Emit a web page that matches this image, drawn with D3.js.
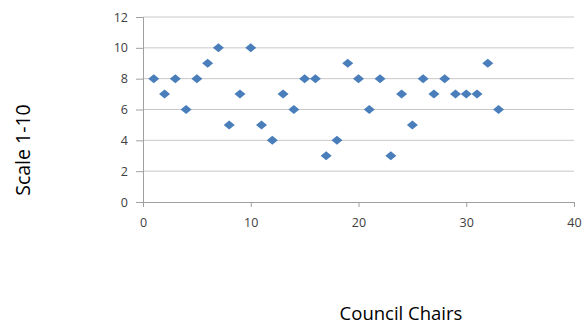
<!DOCTYPE html>
<html>
<head>
<meta charset="utf-8">
<script src="https://cdn.jsdelivr.net/npm/d3@7"></script>
<style>
  html, body { margin: 0; padding: 0; background: #fff; }
  svg { display: block; }
</style>
</head>
<body>
<svg id="chart" width="584" height="326"></svg>
<script>
// Council chair numbers and their ratings on a 1-10 scale
const chairs = [1,2,3,4,5,6,7,8,9,10,11,12,13,14,15,16,17,18,19,20,21,22,23,24,25,26,27,28,29,30,31,32,33];
const ratings = [8,7,8,6,8,9,10,5,7,10,5,4,7,6,8,8,3,4,9,8,6,8,3,7,5,8,7,8,7,7,7,9,6];
const xTicks = [0,10,20,30,40];
const yTicks = [0,2,4,6,8,10,12];
const xTitle = "Council Chairs";
const yTitle = "Scale 1-10";

const svg = d3.select("#chart");
const plotLeft = 143, plotRight = 574, plotTop = 17, plotBottom = 202;

const x = d3.scaleLinear().domain([0, 40]).range([plotLeft, plotRight]);
const y = d3.scaleLinear().domain([0, 12]).range([plotBottom, plotTop]);

const labelFont = "'Open Sans', 'Liberation Sans', sans-serif";

// horizontal gridlines
svg.append("g")
  .selectAll("line")
  .data(yTicks.filter(d => d !== 0))
  .join("line")
  .attr("x1", plotLeft).attr("x2", plotRight)
  .attr("y1", d => y(d)).attr("y2", d => y(d))
  .attr("stroke", "#c8c8c8").attr("stroke-width", 1);

// y axis
const yAxis = svg.append("g")
  .attr("transform", `translate(${plotLeft},0)`)
  .call(d3.axisLeft(y).tickValues(yTicks).tickSize(7).tickPadding(8).tickFormat(d3.format("d")));
yAxis.select(".domain").attr("stroke", "#a0a0a0");
yAxis.selectAll(".tick line").attr("stroke", "#a0a0a0");
yAxis.selectAll(".tick text")
  .attr("fill", "#404040").style("font-family", labelFont).style("font-size", "12.5px");

// x axis
const xAxis = svg.append("g")
  .attr("transform", `translate(0,${plotBottom})`)
  .call(d3.axisBottom(x).tickValues(xTicks).tickSize(5).tickPadding(11).tickFormat(d3.format("d")));
xAxis.select(".domain").attr("stroke", "#a0a0a0");
xAxis.selectAll(".tick line").attr("stroke", "#a0a0a0");
xAxis.selectAll(".tick text")
  .attr("fill", "#404040").style("font-family", labelFont).style("font-size", "12.5px");

// diamond markers
const points = chairs.map((c, i) => ({ c, r: ratings[i] }));
const hw = 5.5, hh = 4.5;
svg.append("g")
  .selectAll("path")
  .data(points)
  .join("path")
  .attr("d", `M0,${-hh}L${hw},0L0,${hh}L${-hw},0Z`)
  .attr("transform", d => `translate(${x(d.c)},${y(d.r)})`)
  .attr("fill", "#4a7ebb");

// axis titles
svg.append("text")
  .attr("transform", `translate(30,150) rotate(-90)`)
  .attr("text-anchor", "middle")
  .style("font-family", labelFont).style("font-size", "19.5px")
  .attr("fill", "#000")
  .text(yTitle);

svg.append("text")
  .attr("x", 401).attr("y", 320)
  .attr("text-anchor", "middle")
  .style("font-family", labelFont).style("font-size", "18.5px")
  .attr("fill", "#000")
  .text(xTitle);
</script>
</body>
</html>
